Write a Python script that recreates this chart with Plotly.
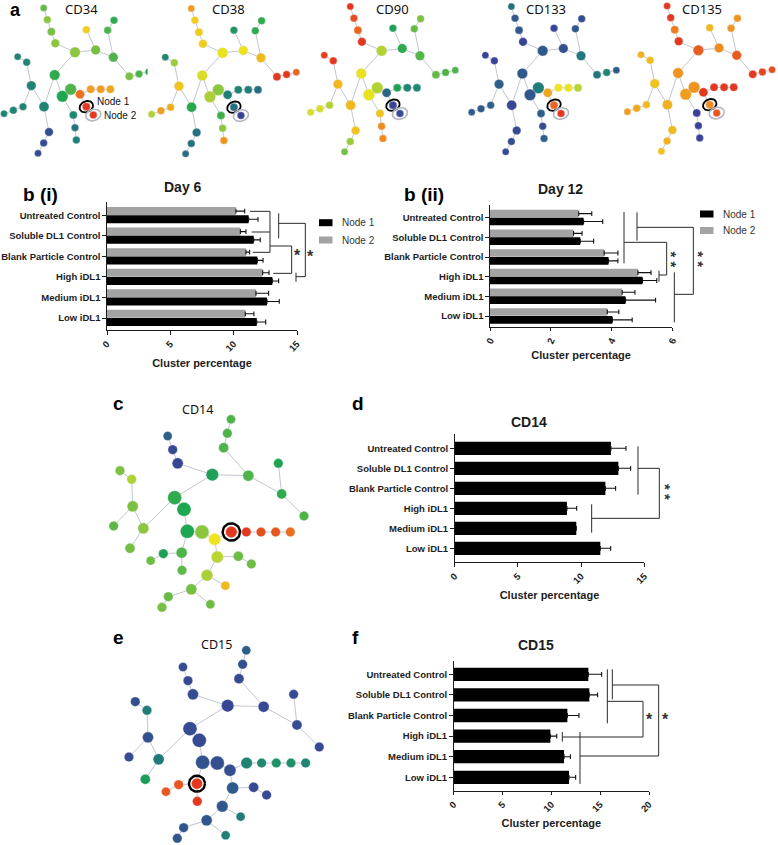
import math
import plotly.graph_objects as go

W, H = 778, 845

# ---------- bar chart data ----------
categories = ["Untreated Control", "Soluble DL1 Control", "Blank Particle Control",
              "High iDL1", "Medium iDL1", "Low iDL1"]

day6_node1 = [11.18, 11.58, 11.87, 13.05, 12.63, 11.82]
day6_node1_top = [11.92, 12.10, 12.32, 13.55, 13.60, 12.53]
day6_node2 = [10.18, 10.53, 10.97, 12.29, 11.76, 10.92]
day6_node2_top = [10.87, 10.97, 11.26, 12.79, 12.76, 11.60]

day12_node1 = [3.08, 2.97, 3.90, 5.02, 4.46, 4.03]
day12_node1_top = [3.71, 3.41, 4.21, 5.49, 5.45, 4.68]
day12_node2 = [2.92, 2.75, 3.76, 4.87, 4.35, 3.86]
day12_node2_top = [3.35, 3.03, 4.21, 5.30, 4.77, 4.24]

cd14_values = [12.36, 12.95, 11.92, 8.88, 9.62, 11.52]
cd14_top = [13.55, 13.92, 12.73, 9.65, 9.62, 12.34]
cd15_values = [13.79, 13.89, 11.64, 9.90, 11.30, 11.81]
cd15_top = [15.15, 14.74, 12.83, 10.55, 11.95, 12.49]

# ---------- network (a): node layout, cluster size and marker expression ----------
net_a_x = [131, 142, 154, 166, 225, 287, 340, 259, 323, 342, 388, 417, 446, 164, 132, 94, 80, 53,
           69, 40, 12, 147, 131, 114, 187, 212, 240, 272, 302, 331, 220, 225, 229, 259, 280]
net_a_y = [24, 59, 95, 130, 157, 150, 172, 89, 91, 61, 229, 222, 215, 225, 320, 257, 187, 170,
           320, 331, 341, 396, 429, 460, 289, 268, 283, 268, 268, 268, 345, 383, 420, 320, 345]
net_a_size = [7, 7.5, 8, 8.5, 10.5, 9.5, 9.5, 7.5, 7.5, 7.5, 8, 7.5, 7, 10.5, 10, 9.5, 7.5, 7,
              7.5, 7.5, 7, 8.5, 7.5, 7, 11.5, 11.5, 9, 8, 8, 8, 8, 7.5, 7.5, 8, 7.5]
net_a_edges = [(0, 1), (1, 2), (2, 3), (3, 4), (4, 5), (5, 6), (5, 7), (6, 8), (8, 9), (6, 10),
               (10, 11), (11, 12), (4, 13), (13, 14), (13, 24), (14, 15), (15, 16), (16, 17),
               (15, 18), (18, 19), (19, 20), (14, 21), (21, 22), (22, 23), (24, 25), (25, 26),
               (26, 27), (27, 28), (28, 29), (24, 30), (30, 31), (31, 32), (26, 33), (33, 34)]

cd34_expr = [.45, .5, .47, .5, .5, .47, .42, .68, .42, .38, .48, .42, .35, .38, .22, .22, .22, .22,
             .22, .22, .22, .05, .04, .04, .36, .42, .88, .78, .78, .76, .24, .17, .2, 1, 1]
cd38_expr = [.78, .68, .68, .68, .62, .64, .72, .3, .38, .38, 1, 1, .9, .6, .37, .7, .52, .22,
             .75, .78, .55, .16, .16, .14, .54, .5, .2, .22, .2, .15, .4, .5, .8, .15, 0]
cd90_expr = [1, .95, .9, 1, .55, .38, .43, .33, .45, .48, .45, .42, .42, .62, .72, .72, 1, .98,
             .55, .6, .6, .7, .52, .47, .62, .55, .12, .34, .22, .24, .7, .82, .82, .02, .03]
cd133_expr = [.15, .08, .08, .02, .08, .06, .18, .02, .07, .05, .17, .22, .08, .08, .03, .1, .01, .01,
              .1, .08, .08, .04, .04, .03, .07, .2, .76, .63, .62, .56, .1, .03, .1, .9, 1]
cd135_expr = [1, 1, .85, 1, .92, .82, .92, .72, .8, .8, 1, .97, .95, .8, .74, .7, .72, .74,
              .72, .76, .78, .72, .74, .7, .78, .8, 1, 1, 1, 1, 0, 0, 0, .82, .93]

# ---------- network (c, e) ----------
net_b_x = [203, 218, 233, 337, 445, 371, 382, 393, 545, 535, 612, 224, 252, 130, 98, 95, 60, 41, 90,
           262, 306, 344, 394, 439, 483, 527, 571, 245, 190, 152, 246, 352, 415, 454, 321, 376, 274,
           205, 186, 331]
net_b_y = [288, 329, 370, 404, 407, 323, 280, 238, 462, 370, 528, 473, 508, 565, 499, 418, 392, 558,
           625, 574, 576, 598, 576, 576, 576, 576, 576, 638, 641, 662, 691, 651, 649, 672, 706, 737,
           748, 770, 802, 793]
net_b_size = [9, 9.5, 11, 12.5, 11, 10, 9.5, 9, 10, 9.5, 9.5, 14, 14, 11, 11, 9.5, 9.5, 9.5, 10,
              14, 14, 12, 11.5, 9.5, 9.5, 9.5, 9.5, 11, 9.5, 9, 9.5, 12, 10, 9.5, 11.5, 9, 11,
              9.5, 9.5, 9]
net_b_edges = [(0, 1), (1, 2), (2, 3), (3, 4), (4, 5), (5, 6), (6, 7), (4, 8), (8, 9), (8, 10),
               (3, 11), (11, 13), (13, 14), (14, 15), (15, 16), (14, 17), (13, 18), (11, 12),
               (12, 19), (19, 20), (20, 21), (21, 22), (22, 23), (23, 24), (24, 25), (25, 26),
               (19, 27), (27, 28), (28, 29), (27, 30), (21, 31), (31, 32), (32, 33), (31, 34),
               (34, 35), (34, 36), (36, 37), (37, 38), (36, 39)]
cd14_expr = [.1, .03, .02, .33, .42, .42, .42, .42, .38, .35, .42, .38, .36, .5, .48, .55, .48, .44, .47,
             .36, .5, .63, 1, 1, .95, .93, .88, .42, .34, .46, .44, .56, .46, .46, .54, .72, .47,
             .45, .47, .46]
cd15_expr = [.04, .03, .04, .02, .03, .03, .05, .1, .04, .03, .03, .04, .03, .18, .06, .2, .05, .04, .32,
             .06, .05, .05, .22, .24, .27, .27, .22, 1, .93, .93, 1, .08, .03, .03, .07, .2, .07,
             .07, .07, .2]

expression_scale = [[0, "#3a3f98"], [.2, "#1f7f78"], [.36, "#1fa650"], [.5, "#8cc63f"],
                    [.63, "#f0e41e"], [.8, "#f0941f"], [1, "#e3371e"]]

SANS = "Liberation Sans"
CALI = "Noto Sans"
INK = "#1c1c1c"

fig = go.Figure()
layout = {}
annotations = []
shapes = []
axis_count = [0]


def new_axes(left, top, right, bottom, x_opts, y_opts):
    axis_count[0] += 1
    n = axis_count[0]
    sx = "" if n == 1 else str(n)
    layout["xaxis" + sx] = dict(domain=[left / W, right / W], anchor="y" + sx, **x_opts)
    layout["yaxis" + sx] = dict(domain=[1 - bottom / H, 1 - top / H], anchor="x" + sx, **y_opts)
    return "x" + sx, "y" + sx


def text(x, y, s, size, bold=False, family=SANS, color=INK, angle=0, anchor="center"):
    annotations.append(dict(xref="paper", yref="paper", x=x / W, y=1 - y / H, text=f"<b>{s}</b>" if bold else s,
                            showarrow=False, xanchor=anchor, yanchor="middle", textangle=angle,
                            font=dict(family=family, size=size, color=color)))


def star(x, y):
    text(x, y + 3.8, "*", 16, True, color="#333333")


def stars(x, y):
    text(x, y, "* *", 15, True, color="#333333", angle=90)


def ellipse(cx, cy, rx, ry, deg):
    a = math.radians(deg)
    xs, ys = [], []
    for i in range(41):
        t = 2 * math.pi * i / 40
        xs.append(cx + rx * math.cos(t) * math.cos(a) - ry * math.sin(t) * math.sin(a))
        ys.append(cy + rx * math.cos(t) * math.sin(a) + ry * math.sin(t) * math.cos(a))
    return xs, ys


def network(xs, ys, sizes, edges, expr, ox, oy, ax_w, y0, ax_h, rings):
    xa, ya = new_axes(ox, oy + y0 / 3, ox + ax_w / 3, oy + (y0 + ax_h) / 3,
                      dict(range=[0, ax_w], visible=False),
                      dict(range=[y0 + ax_h, y0], visible=False))
    ex, ey = [], []
    for a, b in edges:
        ex += [xs[a], xs[b], None]
        ey += [ys[a], ys[b], None]
    fig.add_trace(go.Scatter(x=ex, y=ey, mode="lines", xaxis=xa, yaxis=ya, cliponaxis=False, hoverinfo="skip",
                             line=dict(color="#b4b7c4", width=0.8), showlegend=False))
    fig.add_trace(go.Scatter(x=xs, y=ys, mode="markers", xaxis=xa, yaxis=ya, cliponaxis=False, showlegend=False,
                             marker=dict(size=sizes, color=expr, colorscale=expression_scale, cmin=0, cmax=1, opacity=1,
                                         line=dict(color="rgba(235,235,240,0.7)", width=0.5))))
    for node, rx, ry, deg, col, lw in rings:
        rxs, rys = ellipse(xs[node], ys[node], rx, ry, deg)
        fig.add_trace(go.Scatter(x=rxs, y=rys, mode="lines", xaxis=xa, yaxis=ya, cliponaxis=False, hoverinfo="skip",
                                 line=dict(color=col, width=lw), showlegend=False))


rings_a = [(33, 21, 16, -25, "#000000", 1.8), (34, 23, 17, -15, "#b6b6c2", 1.6)]
for expr, ox, oy in [(cd34_expr, 0, 0), (cd38_expr, 147.6, 0.5), (cd90_expr, 306.6, -1.5),
                     (cd133_expr, 467.7, -1.5), (cd135_expr, 623.4, -2)]:
    network(net_a_x, net_a_y, net_a_size, net_a_edges, expr, ox, oy, 460, 10, 470, rings_a)

network(net_b_x, net_b_y, net_b_size, net_b_edges, cd14_expr, 100, 340, 640, 220, 600,
        [(22, 26, 26, 0, "#000000", 2.4)])
network(net_b_x, net_b_y, net_b_size, net_b_edges, cd15_expr, 115.3, 571, 640, 220, 600,
        [(27, 24, 24, 0, "#000000", 2.4)])


def bar_axes(left, top, right, bottom, xmax, ticks, angle, first, last, standoff):
    step = (last - first) / 5
    lo = -(first - top) / step
    hi = 5 + (bottom - last) / step
    return new_axes(left, top, right, bottom,
                    dict(range=[0, xmax], tickvals=ticks, ticktext=[f"<b>{t}</b>" for t in ticks], tickangle=angle,
                         showline=True, linecolor=INK, linewidth=1.3, ticks="outside", ticklen=3.5, tickwidth=1.1,
                         tickcolor=INK, showgrid=False, zeroline=False, tickfont=dict(family=SANS, size=9.5, color=INK),
                         title=dict(text="<b>Cluster percentage</b>", standoff=standoff,
                                    font=dict(family=SANS, size=11, color=INK))),
                    dict(type="category", categoryorder="array", categoryarray=categories, range=[hi, lo],
                         tickvals=categories, ticktext=[f"<b>{c}</b>" for c in categories],
                         showline=True, linecolor=INK, linewidth=1.3, ticks="outside", ticklen=3.5, tickwidth=1.1,
                         tickcolor=INK, showgrid=False, zeroline=False, tickfont=dict(family=SANS, size=9.5, color=INK)))


def bars(xa, ya, values, tops, color, offset, width, name):
    plus = [max(t - v, 0) for t, v in zip(tops, values)]
    fig.add_trace(go.Bar(y=categories, x=values, name=name, orientation="h", xaxis=xa, yaxis=ya, offset=offset, width=width,
                         marker=dict(color=color, line=dict(width=0)), showlegend=False,
                         error_x=dict(type="data", symmetric=False, array=plus, arrayminus=[0] * 6,
                                      color="#111111", thickness=1.1, width=2.4)))


def legend(x, y1, y2):
    for y, col, name in [(y1, "#000000", "Node 1"), (y2, "#a3a3a3", "Node 2")]:
        shapes.append(dict(type="rect", xref="paper", yref="paper", x0=x / W, x1=(x + 13.5) / W,
                           y0=1 - (y + 3.5) / H, y1=1 - (y - 3.5) / H, fillcolor=col, line=dict(width=0)))
        text(x + 20.5, y, name, 10, color="#333333", anchor="left")


def bracket(points, lw=1.0):
    d = ""
    for line in points:
        d += "M" + " L".join(f"{px / W:.5f},{1 - py / H:.5f}" for px, py in line) + " "
    shapes.append(dict(type="path", xref="paper", yref="paper", path=d, line=dict(color="#2a2a2a", width=lw)))


def z(ox, oy, pts):
    return [(ox + a / 3, oy + b / 3) for a, b in pts]


# b (i)
xa, ya = bar_axes(107, 202, 297, 330, 15, [0, 5, 10, 15], -45, 215.3, 318, 6)
bars(xa, ya, day6_node2, day6_node2_top, "#a3a3a3", -0.4, 0.39, "Node 2")
bars(xa, ya, day6_node1, day6_node1_top, "#000000", 0.0, 0.39, "Node 1")
legend(319, 222.7, 240)
bracket([z(0, 170, [(750, 124), (810, 124), (810, 247), (758, 247)]), z(0, 170, [(755, 186), (810, 186)]),
         z(0, 170, [(810, 228), (875, 228), (875, 310), (820, 310)]),
         z(0, 170, [(836, 130), (836, 205)]), z(0, 170, [(836, 160), (916, 160), (916, 320), (888, 320)]),
         z(0, 170, [(888, 308), (888, 335)])])
star(297.7, 251.7)
star(310.7, 252.7)
text(183, 187, "Day 6", 14, True)

# b (ii)
xa, ya = bar_axes(490, 205, 672.3, 326.7, 6, [0, 2, 4, 6], -65, 217.7, 316, 6)
bars(xa, ya, day12_node2, day12_node2_top, "#a3a3a3", -0.4, 0.39, "Node 2")
bars(xa, ya, day12_node1, day12_node1_top, "#000000", 0.0, 0.39, "Node 1")
legend(700, 214, 230.5)
o = (385, 170)
bracket([z(*o, [(717, 126), (717, 280)]), z(*o, [(717, 217), (845, 217), (845, 315), (822, 315)]),
         z(*o, [(822, 302), (822, 335)]), z(*o, [(756, 127), (756, 212)]),
         z(*o, [(756, 172), (925, 172), (925, 373), (868, 373)]), z(*o, [(868, 307), (868, 457)])])
stars(671, 259.5)
stars(698.3, 259.5)
text(560, 189, "Day 12", 14, True)

# d
xa, ya = bar_axes(454.7, 434.3, 644.3, 562.3, 15, [0, 5, 10, 15], -45, 448.3, 548.3, 6)
bars(xa, ya, cd14_values, cd14_top, "#000000", None, 0.667, "CD14")
o = (320, 400)
bracket([z(*o, [(954, 139), (954, 284)]), z(*o, [(954, 205), (1018, 205), (1018, 355), (815, 355)]),
         z(*o, [(815, 313), (815, 398)])])
stars(665.7, 491.7)
text(528.7, 421.7, "CD14", 14, True)

# f
xa, ya = bar_axes(453.7, 660.7, 649, 790.7, 20, [0, 5, 10, 15, 20], -45, 674.3, 777.3, 6)
bars(xa, ya, cd15_values, cd15_top, "#000000", None, 0.645, "CD15")
o = (320, 630)
bracket([z(*o, [(862, 118), (862, 280)]), z(*o, [(862, 214), (969, 214), (969, 321), (727, 321)]),
         z(*o, [(727, 306), (727, 335)]), z(*o, [(877, 118), (877, 208)]),
         z(*o, [(877, 165), (1016, 165), (1016, 378), (780, 378)]), z(*o, [(780, 306), (780, 462)])])
star(649.3, 716)
star(665.3, 716)
text(536, 645, "CD15", 14, True)

# titles of the network panels
for x, s in [(81, "CD34"), (228, "CD38"), (392, "CD90"), (546, "CD133"), (702, "CD135")]:
    text(x, 8.9, s, 13, family=CALI, color="#111111")
text(197, 409, "CD14", 12.5, family=CALI, color="#111111")
text(216, 644, "CD15", 12.5, family=CALI, color="#111111")
text(113.5, 102, "Node 1", 10, color="#111111")
text(120.5, 116, "Node 2", 10, color="#111111")

# panel letters
for x, y, s, size in [(16, 10, "a", 18), (40, 194, "b (i)", 19), (424, 194, "b (ii)", 19),
                      (118, 403, "c", 19), (358, 403, "d", 19), (118, 637, "e", 19), (355, 637, "f", 19)]:
    text(x, y, s, size, True, color="#000000")

fig.update_layout(width=W, height=H, autosize=False, margin=dict(l=0, r=0, t=0, b=0, autoexpand=False),
                  paper_bgcolor="white", plot_bgcolor="white", barmode="overlay", showlegend=False,
                  annotations=annotations, shapes=shapes, **layout)
fig.write_html("out.html", config=dict(displayModeBar=False), post_script="document.body.style.margin='0';")
